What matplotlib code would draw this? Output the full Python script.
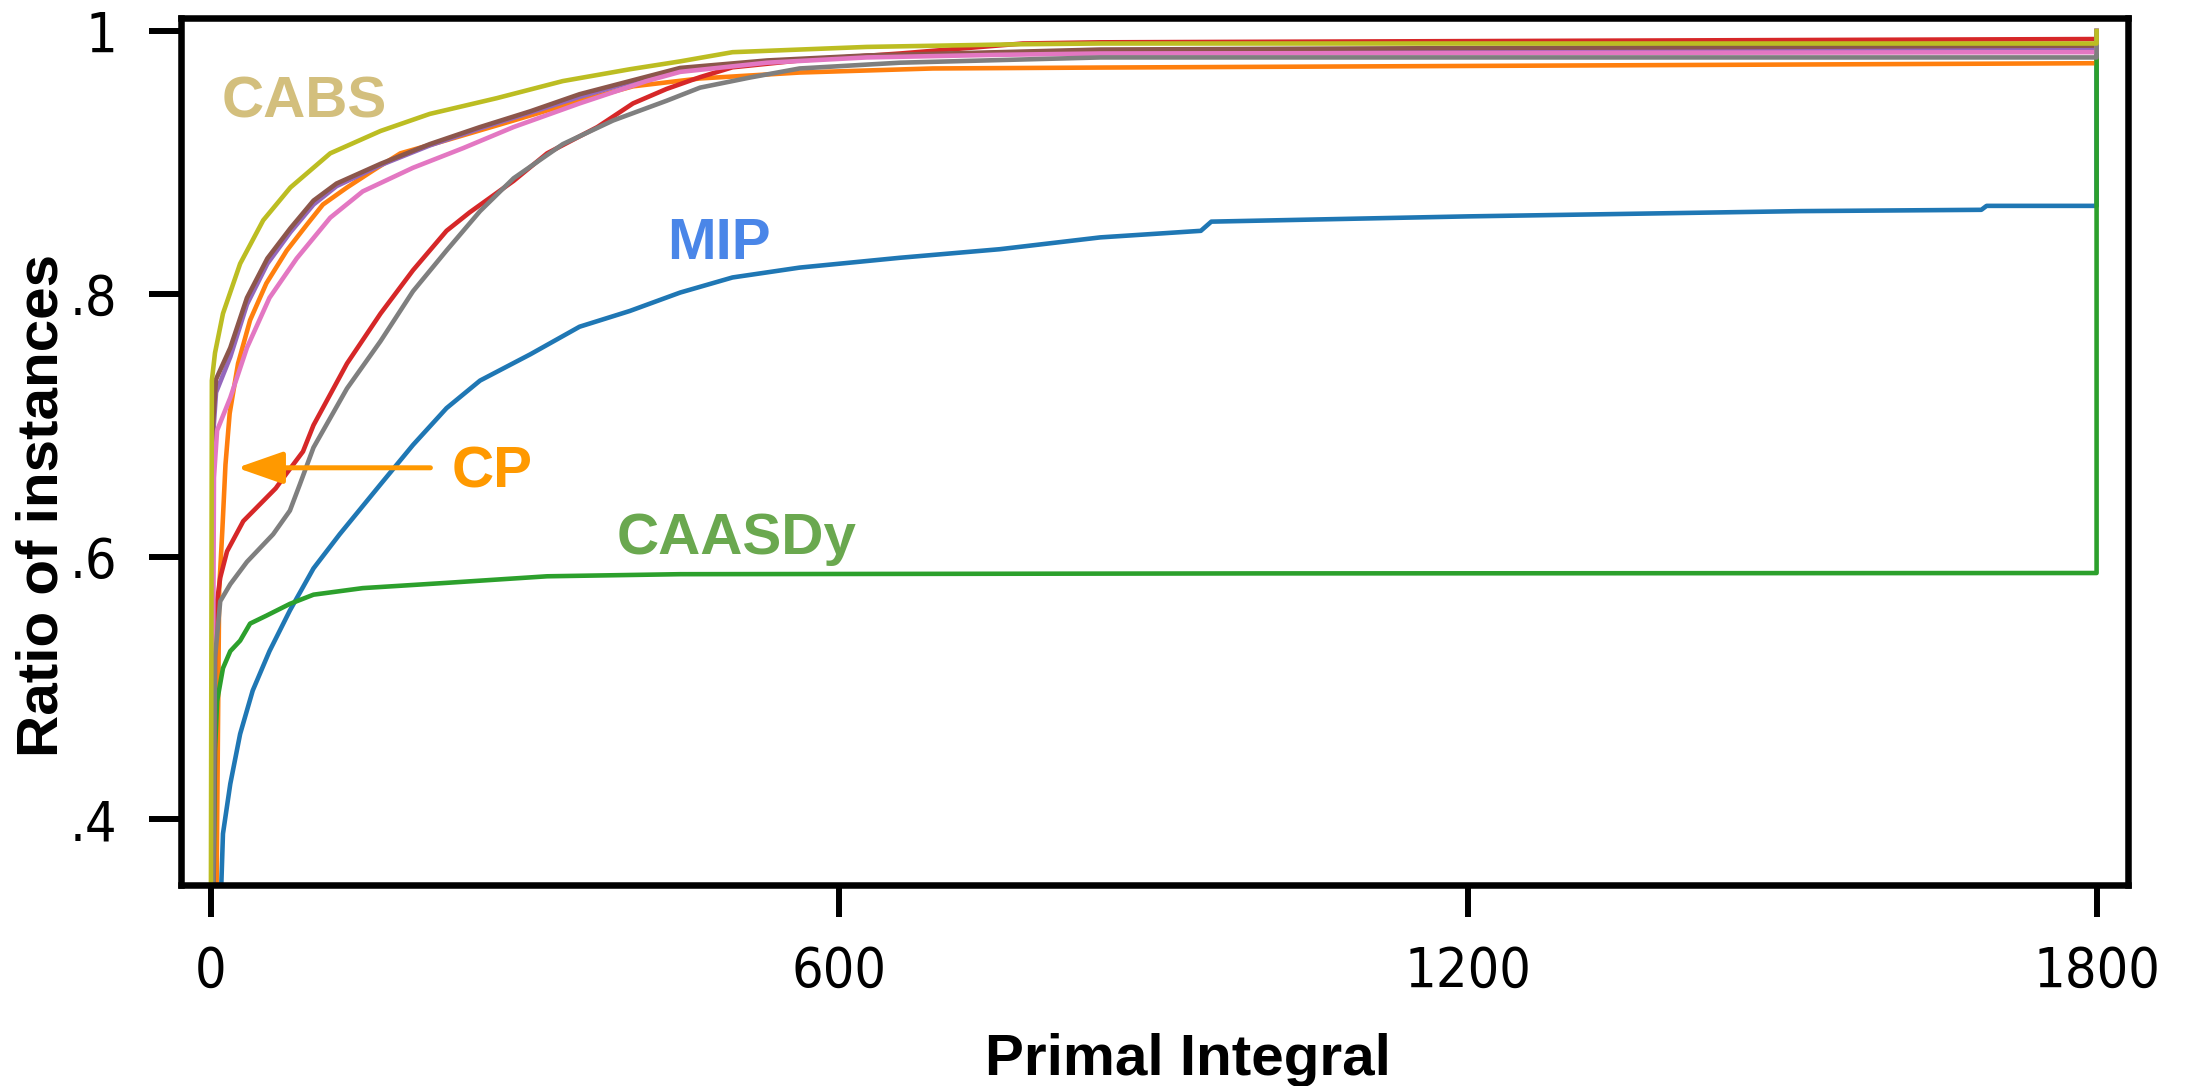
import matplotlib
matplotlib.use("Agg")
import matplotlib.pyplot as plt

# x = primal integral, y = ratio of instances
mip_x = [8, 11.6, 18.6, 28, 40, 56, 75.5, 98, 123, 162, 193, 225, 257, 305, 352, 400, 448, 498, 562, 658, 753, 849, 945, 955, 1200, 1517, 1690, 1695, 1800, 1800]
mip_y = [0.30, 0.389, 0.427, 0.465, 0.498, 0.528, 0.559, 0.591, 0.617, 0.655, 0.685, 0.713, 0.734, 0.754, 0.775, 0.787, 0.801, 0.8125, 0.820, 0.8275, 0.834, 0.843, 0.848, 0.855, 0.859, 0.863, 0.864, 0.867, 0.867, 1.0]

cp_x = [5, 8, 11, 14, 18, 26, 37.5, 53, 72.5, 92, 107, 130, 155, 181, 225, 289, 352, 403, 467, 562, 689, 849, 1800, 1800]
cp_y = [0.30, 0.575, 0.62, 0.67, 0.709, 0.747, 0.780, 0.808, 0.833, 0.853, 0.868, 0.881, 0.894, 0.907, 0.917, 0.932, 0.947, 0.958, 0.964, 0.9685, 0.9716, 0.9723, 0.9756, 1.0]

caasdy_x = [2, 4, 6, 11.6, 18.6, 28, 37.5, 53, 75.5, 98, 145, 225, 321, 448, 1000, 1800, 1800]
caasdy_y = [0.30, 0.452, 0.49, 0.515, 0.528, 0.536, 0.549, 0.555, 0.564, 0.571, 0.576, 0.580, 0.585, 0.5866, 0.5872, 0.5875, 1.0]

red_x = [2, 4, 6, 9, 15.5, 31, 62, 72, 88, 98, 130, 162, 193, 225, 247, 289, 321, 369, 403, 435, 467, 498, 562, 658, 775, 849, 1800, 1800]
red_y = [0.30, 0.53, 0.566, 0.584, 0.604, 0.627, 0.652, 0.663, 0.680, 0.700, 0.747, 0.785, 0.818, 0.848, 0.862, 0.886, 0.907, 0.927, 0.945, 0.956, 0.965, 0.9725, 0.9777, 0.983, 0.9906, 0.9915, 0.994, 1.0]

purple_x = [1, 2, 5, 18.6, 34.5, 54, 76, 98, 120, 162, 209, 257, 305, 352, 400, 448, 531, 626, 753, 849, 1800, 1800]
purple_y = [0.30, 0.69, 0.725, 0.752, 0.792, 0.823, 0.847, 0.868, 0.882, 0.898, 0.913, 0.926, 0.938, 0.950, 0.961, 0.970, 0.977, 0.981, 0.9835, 0.985, 0.987, 1.0]

brown_x = [1, 2, 5, 18.6, 34.5, 54, 76, 98, 120, 162, 209, 257, 305, 352, 400, 448, 531, 626, 753, 849, 1800, 1800]
brown_y = [0.30, 0.70, 0.735, 0.759, 0.797, 0.827, 0.850, 0.871, 0.884, 0.899, 0.914, 0.927, 0.939, 0.952, 0.962, 0.972, 0.9777, 0.9815, 0.984, 0.986, 0.989, 1.0]

pink_x = [1, 3, 6, 18.6, 34.5, 56, 82, 114, 145, 193, 241, 289, 352, 416, 448, 531, 626, 753, 849, 1800, 1800]
pink_y = [0.30, 0.66, 0.696, 0.721, 0.759, 0.797, 0.827, 0.858, 0.878, 0.896, 0.911, 0.927, 0.945, 0.962, 0.969, 0.976, 0.980, 0.982, 0.983, 0.984, 1.0]

gray_x = [2, 4, 9, 18.6, 34.5, 59.5, 75.5, 85, 98, 130, 162, 193, 225, 257, 289, 336, 384, 435, 467, 514, 562, 658, 849, 1800, 1800]
gray_y = [0.30, 0.523, 0.566, 0.579, 0.596, 0.617, 0.635, 0.655, 0.683, 0.728, 0.764, 0.802, 0.833, 0.863, 0.888, 0.914, 0.932, 0.947, 0.957, 0.9646, 0.9716, 0.976, 0.980, 0.980, 1.0]

cabs_x = [0, 1, 4, 11.6, 28, 50, 76, 114, 162, 209, 273, 336, 400, 448, 498, 626, 769, 849, 1800, 1800]
cabs_y = [0.30, 0.734, 0.755, 0.785, 0.823, 0.856, 0.881, 0.907, 0.924, 0.937, 0.949, 0.962, 0.971, 0.977, 0.984, 0.988, 0.990, 0.9906, 0.9906, 1.0]

series = [
    (mip_x, mip_y, "tab:blue"),
    (cp_x, cp_y, "tab:orange"),
    (caasdy_x, caasdy_y, "tab:green"),
    (red_x, red_y, "tab:red"),
    (purple_x, purple_y, "tab:purple"),
    (brown_x, brown_y, "tab:brown"),
    (pink_x, pink_y, "tab:pink"),
    (gray_x, gray_y, "tab:gray"),
    (cabs_x, cabs_y, "tab:olive"),
]

x_ticks = [0, 600, 1200, 1800]
y_ticks = [0.4, 0.6, 0.8, 1.0]
y_tick_labels = [".4", ".6", ".8", "1"]

fig = plt.figure(figsize=(21.97, 10.86), dpi=100)
ax = fig.add_axes([0.0826, 0.1851, 0.886, 0.7983])

for xs, ys, c in series:
    ax.plot(xs, ys, color=c, linewidth=3.3)

ax.set_xlim(-28, 1830)
ax.set_ylim(0.35, 1.01)
ax.set_xticks(x_ticks)
ax.set_yticks(y_ticks)
ax.set_yticklabels(y_tick_labels)

for s in ax.spines.values():
    s.set_linewidth(4.7)
ax.tick_params(axis="both", length=23, width=4.3, labelsize=40)
ax.tick_params(axis="x", pad=20)
ax.tick_params(axis="y", pad=23)
# the tick labels in the reference are a little narrow
for lbl in ax.get_xticklabels() + ax.get_yticklabels():
    lbl.set_fontstretch("condensed")

lab_font = dict(family="Liberation Sans", fontweight="bold", fontsize=42)
ax.set_xlabel("Primal Integral", va="baseline", ha="center", **lab_font)
ax.xaxis.set_label_coords(0.517, -0.219)
ax.set_ylabel("Ratio of instances", va="baseline", ha="center", **lab_font)
ax.yaxis.set_label_coords(-0.0636, 0.438)

# annotations
ax.text(10.8, 0.934, "CABS", color="#d3bf7d", **lab_font)
ax.text(436, 0.8267, "MIP", color="#4a86e8", **lab_font)
ax.text(230, 0.6524, "CP", color="#ff9900", **lab_font)
ax.text(387.6, 0.602, "CAASDy", color="#6aa84f", **lab_font)
ax.annotate("", xy=(25, 0.6676), xytext=(209.6, 0.6676),
            arrowprops=dict(arrowstyle="-|>,head_length=0.4,head_width=0.14",
                            mutation_scale=70, color="#ff9900", lw=3.6,
                            shrinkA=0, shrinkB=0))

fig.savefig("out.png", dpi=100)
